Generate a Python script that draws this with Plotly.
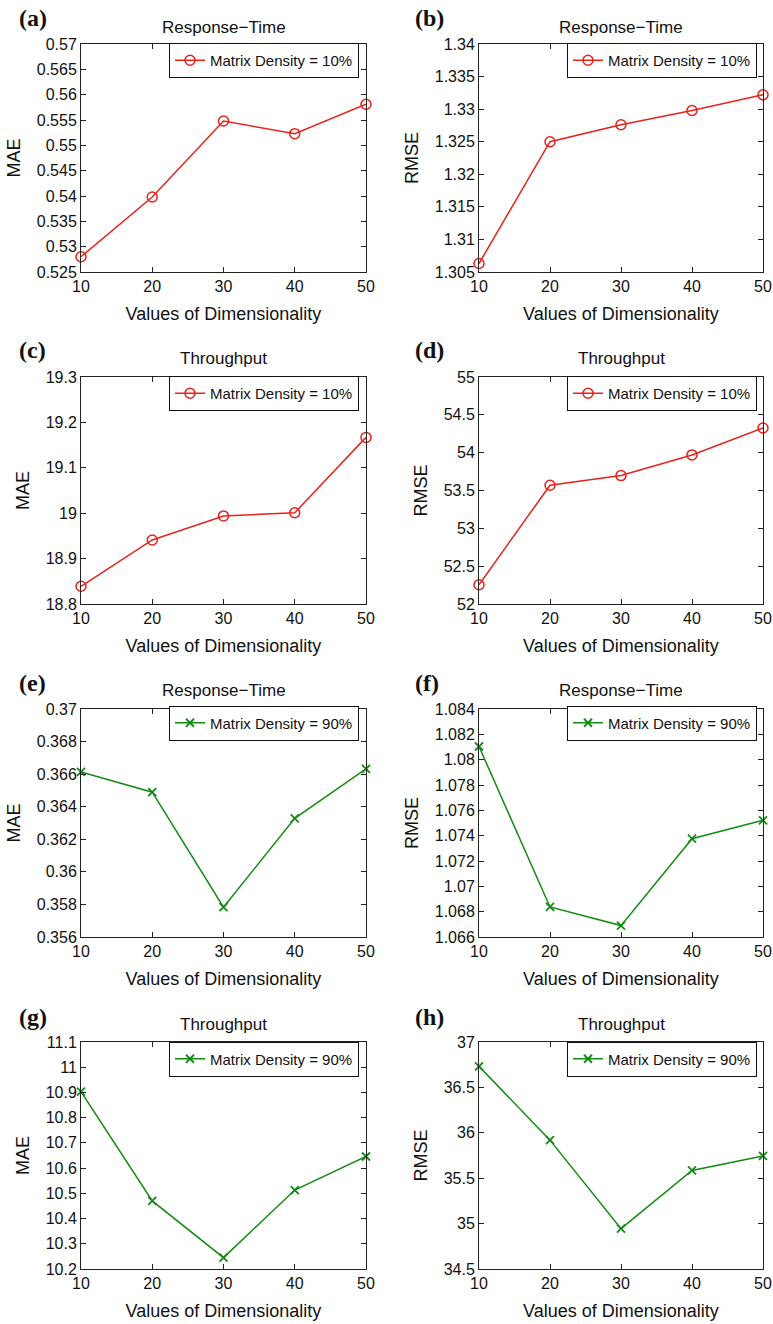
import plotly.graph_objects as go

W, H = 773, 1324

dims = [10, 20, 30, 40, 50]
x_tick_labels = ["10", "20", "30", "40", "50"]

mae_rt_10 = [0.5280, 0.5398, 0.5548, 0.5523, 0.5581]
rmse_rt_10 = [1.3063, 1.3250, 1.3276, 1.3298, 1.3322]
mae_tp_10 = [18.839, 18.941, 18.994, 19.001, 19.167]
rmse_tp_10 = [52.255, 53.570, 53.697, 53.970, 54.326]
mae_rt_90 = [0.36614, 0.36489, 0.35783, 0.36329, 0.36633]
rmse_rt_90 = [1.08104, 1.06837, 1.06690, 1.07376, 1.07521]
mae_tp_90 = [10.903, 10.470, 10.245, 10.513, 10.646]
rmse_tp_90 = [36.732, 35.919, 34.944, 35.585, 35.746]

yt_a = ["0.525", "0.53", "0.535", "0.54", "0.545", "0.55", "0.555", "0.56", "0.565", "0.57"]
yt_b = ["1.305", "1.31", "1.315", "1.32", "1.325", "1.33", "1.335", "1.34"]
yt_c = ["18.8", "18.9", "19", "19.1", "19.2", "19.3"]
yt_d = ["52", "52.5", "53", "53.5", "54", "54.5", "55"]
yt_e = ["0.356", "0.358", "0.36", "0.362", "0.364", "0.366", "0.368", "0.37"]
yt_f = ["1.066", "1.068", "1.07", "1.072", "1.074", "1.076", "1.078", "1.08", "1.082", "1.084"]
yt_g = ["10.2", "10.3", "10.4", "10.5", "10.6", "10.7", "10.8", "10.9", "11", "11.1"]
yt_h = ["34.5", "35", "35.5", "36", "36.5", "37"]

panel_letters = ["(a)", "(b)", "(c)", "(d)", "(e)", "(f)", "(g)", "(h)"]
panel_titles = ["Response\u2212Time", "Response\u2212Time", "Throughput", "Throughput",
                "Response\u2212Time", "Response\u2212Time", "Throughput", "Throughput"]
y_titles = ["MAE", "RMSE", "MAE", "RMSE", "MAE", "RMSE", "MAE", "RMSE"]
series_names = ["Matrix Density = 10%"] * 4 + ["Matrix Density = 90%"] * 4
series = [mae_rt_10, rmse_rt_10, mae_tp_10, rmse_tp_10,
          mae_rt_90, rmse_rt_90, mae_tp_90, rmse_tp_90]
y_tick_sets = [yt_a, yt_b, yt_c, yt_d, yt_e, yt_f, yt_g, yt_h]
x_title = "Values of Dimensionality"

RED = "#e8221b"
GREEN = "#138a13"

# layout geometry (pixels)
col_x = [(81, 366), (479, 763)]
row_y = [(44, 272), (377, 604), (709, 937), (1042, 1269)]
legend_cy = [60.5, 393.5, 723, 1059]
legend_right = [359, 757]
letter_left = [17, 413]
letter_cy = [18, 350, 683, 1017]
title_cy = [27, 358, 691, 1024]

FONT = "Liberation Sans, Arial, sans-serif"

fig = go.Figure()
annotations = []
layout = dict(
    width=W, height=H, autosize=False,
    margin=dict(l=0, r=0, t=0, b=0, pad=0, autoexpand=False),
    paper_bgcolor="white", plot_bgcolor="white",
    font=dict(family=FONT, color="#111111", size=14),
    showlegend=True,
)

for i in range(8):
    r, c = divmod(i, 2)
    n = i + 1
    xa = "x" if n == 1 else f"x{n}"
    ya = "y" if n == 1 else f"y{n}"
    lg = "legend" if n == 1 else f"legend{n}"
    green = i >= 4
    color = GREEN if green else RED
    marker = dict(symbol="x-thin-open", size=8, line=dict(width=1.8, color=color), color=color) if green \
        else dict(symbol="circle-open", size=10, line=dict(width=1.5, color=color), color=color)
    fig.add_trace(go.Scatter(
        x=dims, y=series[i], mode="lines+markers",
        name=series_names[i], line=dict(color=color, width=1.5),
        marker=marker, xaxis=xa, yaxis=ya, legend=lg, showlegend=True,
        cliponaxis=False,
    ))
    x0, x1 = col_x[c]
    yt, yb = row_y[r]
    tv = [float(t) for t in y_tick_sets[i]]
    layout["xaxis" if n == 1 else f"xaxis{n}"] = dict(
        domain=[x0 / W, x1 / W], anchor=ya, range=[10, 50], automargin=False,
        tickvals=dims, ticktext=x_tick_labels,
        ticks="inside", ticklen=5, tickwidth=1, tickcolor="#222222",
        showline=True, linecolor="#222222", linewidth=1, mirror="ticks",
        showgrid=False, zeroline=False,
        tickfont=dict(size=16, family=FONT, color="#111111"),
        title=dict(text=x_title, font=dict(size=18, family=FONT, color="#111111"), standoff=13),
    )
    layout["yaxis" if n == 1 else f"yaxis{n}"] = dict(
        domain=[1 - yb / H, 1 - yt / H], anchor=xa, range=[tv[0], tv[-1]], automargin=False,
        tickvals=tv, ticktext=y_tick_sets[i],
        ticks="inside", ticklen=5, tickwidth=1, tickcolor="#222222",
        showline=True, linecolor="#222222", linewidth=1, mirror="ticks",
        showgrid=False, zeroline=False,
        tickfont=dict(size=16, family=FONT, color="#111111"),
        title=dict(text=y_titles[i], font=dict(size=18, family=FONT, color="#111111"), standoff=11),
    )
    layout[lg] = dict(
        x=legend_right[c] / W, y=1 - legend_cy[r] / H,
        xanchor="right", yanchor="middle", xref="paper", yref="paper",
        bgcolor="white", bordercolor="#111111", borderwidth=1,
        font=dict(size=15, family=FONT, color="#111111"),
        itemwidth=30,
    )
    annotations.append(dict(
        text=panel_titles[i], xref="paper", yref="paper",
        x=(x0 + x1) / 2 / W, y=1 - title_cy[r] / H,
        xanchor="center", yanchor="middle", showarrow=False,
        font=dict(size=17, family=FONT, color="#111111"),
    ))
    annotations.append(dict(
        text="<b>" + panel_letters[i] + "</b>", xref="paper", yref="paper",
        x=letter_left[c] / W, y=1 - letter_cy[r] / H,
        xanchor="left", yanchor="middle", showarrow=False,
        font=dict(size=24, family="Liberation Serif, Times New Roman, serif", color="#111111"),
    ))

layout["annotations"] = annotations
fig.update_layout(**layout)
fig.write_html(
    "out.html",
    config={"displayModeBar": False},
    post_script="document.body.style.margin='0';document.body.style.overflow='hidden';",
)
